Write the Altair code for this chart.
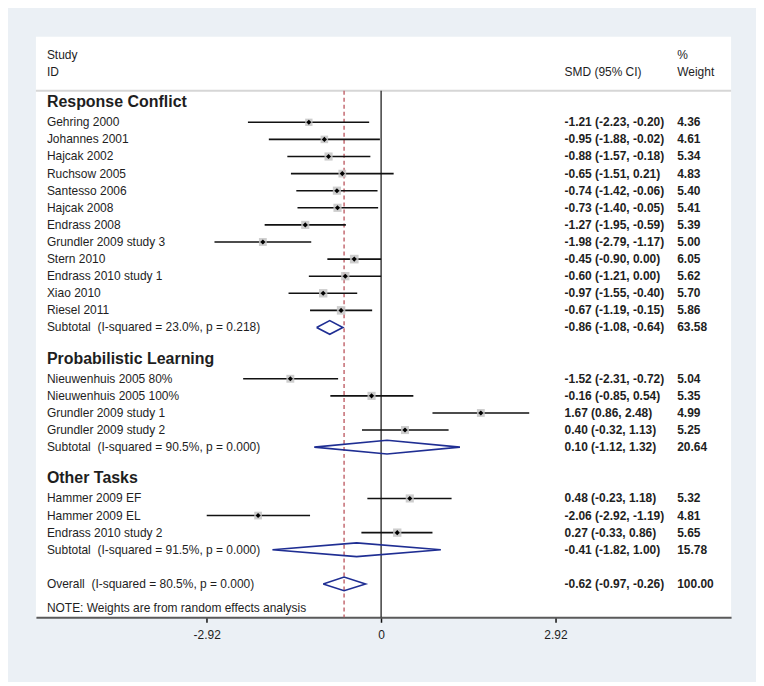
import altair as alt
import pandas as pd

groups = ["Response Conflict", "Probabilistic Learning", "Other Tasks"]
study_ids = [
    ["Gehring 2000", "Johannes 2001", "Hajcak 2002", "Ruchsow 2005", "Santesso 2006",
     "Hajcak 2008", "Endrass 2008", "Grundler 2009 study 3", "Stern 2010",
     "Endrass 2010 study 1", "Xiao 2010", "Riesel 2011"],
    ["Nieuwenhuis 2005 80%", "Nieuwenhuis 2005 100%", "Grundler 2009 study 1", "Grundler 2009 study 2"],
    ["Hammer 2009 EF", "Hammer 2009 EL", "Endrass 2010 study 2"],
]
smd = [
    [-1.21, -0.95, -0.88, -0.65, -0.74, -0.73, -1.27, -1.98, -0.45, -0.60, -0.97, -0.67],
    [-1.52, -0.16, 1.67, 0.40],
    [0.48, -2.06, 0.27],
]
ci_low = [
    [-2.23, -1.88, -1.57, -1.51, -1.42, -1.40, -1.95, -2.79, -0.90, -1.21, -1.55, -1.19],
    [-2.31, -0.85, 0.86, -0.32],
    [-0.23, -2.92, -0.33],
]
ci_high = [
    [-0.20, -0.02, -0.18, 0.21, -0.06, -0.05, -0.59, -1.17, 0.00, 0.00, -0.40, -0.15],
    [-0.72, 0.54, 2.48, 1.13],
    [1.18, -1.19, 0.86],
]
weights = [
    [4.36, 4.61, 5.34, 4.83, 5.40, 5.41, 5.39, 5.00, 6.05, 5.62, 5.70, 5.86],
    [5.04, 5.35, 4.99, 5.25],
    [5.32, 4.81, 5.65],
]
subtotal_labels = [
    "Subtotal\u00a0 (I-squared = 23.0%, p = 0.218)",
    "Subtotal\u00a0 (I-squared = 90.5%, p = 0.000)",
    "Subtotal\u00a0 (I-squared = 91.5%, p = 0.000)",
]
subtotal_smd = [-0.86, 0.10, -0.41]
subtotal_low = [-1.08, -1.12, -1.82]
subtotal_high = [-0.64, 1.32, 1.00]
subtotal_weight = [63.58, 20.64, 15.78]
overall_label = "Overall\u00a0 (I-squared = 80.5%, p = 0.000)"
overall_smd = -0.62
overall_low = -0.97
overall_high = -0.26
overall_weight = 100.00
note_text = "NOTE: Weights are from random effects analysis"
x_ticks = [-2.92, 0, 2.92]

FONT = "Liberation Sans"
TEXT_COLOR = "#1e1e1e"
W, H = 697, 582
Y_DOMAIN = [-5.0, 28.95]
X_DOMAIN = [-5.78, 5.86]

def fmt_ci(e, l, h):
    return f"{e:.2f} ({l:.2f}, {h:.2f})"

# build table rows
study_rows, heading_rows, summary_rows = [], [], []
r = 0
for gi, g in enumerate(groups):
    heading_rows.append({"label": g, "row": r - 1})
    for j, s in enumerate(study_ids[gi]):
        study_rows.append({
            "label": s, "row": r + j, "est": smd[gi][j], "lo": ci_low[gi][j],
            "hi": ci_high[gi][j], "w": weights[gi][j],
            "ci": fmt_ci(smd[gi][j], ci_low[gi][j], ci_high[gi][j]),
            "wt": f"{weights[gi][j]:.2f}",
        })
    n = len(study_ids[gi])
    summary_rows.append({
        "label": subtotal_labels[gi], "row": r + n, "est": subtotal_smd[gi],
        "lo": subtotal_low[gi], "hi": subtotal_high[gi],
        "ci": fmt_ci(subtotal_smd[gi], subtotal_low[gi], subtotal_high[gi]),
        "wt": f"{subtotal_weight[gi]:.2f}",
    })
    r = r + n + 3
summary_rows.append({
    "label": overall_label, "row": r - 1, "est": overall_smd, "lo": overall_low,
    "hi": overall_high, "ci": fmt_ci(overall_smd, overall_low, overall_high),
    "wt": f"{overall_weight:.2f}",
})
note_row = r - 1 + 1.4

studies_df = pd.DataFrame(study_rows)
heads_df = pd.DataFrame(heading_rows)
summ_df = pd.DataFrame(summary_rows)

# diamond outlines
dia = []
for i, s in summ_df.iterrows():
    pts = [(s["lo"], s["row"]), (s["est"], s["row"] - 0.4), (s["hi"], s["row"]),
           (s["est"], s["row"] + 0.4), (s["lo"], s["row"])]
    for k, (xx, yy) in enumerate(pts):
        dia.append({"id": i, "k": k, "x": xx, "y": yy})
dia_df = pd.DataFrame(dia)

xs = alt.Scale(domain=X_DOMAIN, nice=False, zero=False)
ys = alt.Scale(domain=Y_DOMAIN, reverse=True, nice=False, zero=False)

xaxis = alt.Axis(values=x_ticks, title=None, grid=False, labelExpr="'' + datum.value",
                 domainColor="#5a5a5a", domainWidth=2, tickColor="#111", tickWidth=1.5,
                 tickSize=5, labelPadding=7, labelFont=FONT, labelFontSize=12,
                 labelColor=TEXT_COLOR)

# header separator
sep = alt.Chart(pd.DataFrame({"y": [-1.84]})).mark_rule(color="#d6d6d6", strokeWidth=2).encode(
    y=alt.Y("y:Q", scale=ys, axis=None), x=alt.value(0), x2=alt.value(W))

zero_line = alt.Chart(pd.DataFrame({"x": [0.0], "y": [-1.84], "y2": [Y_DOMAIN[1]]})).mark_rule(
    color="#222", strokeWidth=1.3).encode(
    x=alt.X("x:Q", scale=xs, axis=xaxis), y=alt.Y("y:Q", scale=ys, axis=None), y2="y2:Q")

ovl_line = alt.Chart(pd.DataFrame({"x": [overall_smd], "y": [-1.84], "y2": [Y_DOMAIN[1]]})).mark_rule(
    color="#c46a72", strokeWidth=1.5, strokeDash=[4, 3]).encode(
    x=alt.X("x:Q", scale=xs), y=alt.Y("y:Q", scale=ys), y2="y2:Q")

ci_lines = alt.Chart(studies_df).mark_rule(color="#111", strokeWidth=1.6).encode(
    x=alt.X("lo:Q", scale=xs), x2="hi:Q", y=alt.Y("row:Q", scale=ys))

boxes = alt.Chart(studies_df).mark_square(color="#c4c4c4", opacity=0.85).encode(
    x=alt.X("est:Q", scale=xs), y=alt.Y("row:Q", scale=ys),
    size=alt.Size("w:Q", scale=alt.Scale(domain=[0, 6.05], range=[0, 75]), legend=None))

dots = alt.Chart(studies_df).mark_point(shape="diamond", filled=True, color="#000", size=26, opacity=1).encode(
    x=alt.X("est:Q", scale=xs), y=alt.Y("row:Q", scale=ys))

diamonds = alt.Chart(dia_df).mark_line(color="#1f2e93", strokeWidth=1.6).encode(
    x=alt.X("x:Q", scale=xs), y=alt.Y("y:Q", scale=ys), detail="id:N", order="k:Q")

def txt(df, field, xpx, size=12, weight="normal", dy=0):
    return alt.Chart(df).mark_text(align="left", baseline="middle", font=FONT, fontSize=size,
                                   fontWeight=weight, color=TEXT_COLOR, dy=dy).encode(
        x=alt.value(xpx), y=alt.Y("row:Q", scale=ys), text=f"{field}:N")

COL_LABEL, COL_CI, COL_WT = 11, 530, 643

header_df = pd.DataFrame([
    {"row": -3.94, "label": "Study", "x": COL_LABEL},
    {"row": -2.94, "label": "ID", "x": COL_LABEL},
    {"row": -2.94, "label": "SMD (95% CI)", "x": COL_CI},
    {"row": -3.94, "label": "%", "x": COL_WT},
    {"row": -2.94, "label": "Weight", "x": COL_WT},
])
headers = alt.Chart(header_df).mark_text(align="left", baseline="middle", font=FONT, fontSize=12,
                                         color=TEXT_COLOR).encode(
    x=alt.X("x:Q", scale=None), y=alt.Y("row:Q", scale=ys), text="label:N")

note_df = pd.DataFrame([{"row": note_row, "label": note_text}])

layers = [
    sep, zero_line, ovl_line, ci_lines, boxes, dots, diamonds, headers,
    txt(heads_df, "label", COL_LABEL, size=16, weight="bold", dy=-3),
    txt(studies_df, "label", COL_LABEL),
    txt(studies_df, "ci", COL_CI, weight="bold"),
    txt(studies_df, "wt", COL_WT, weight="bold"),
    txt(summ_df, "label", COL_LABEL),
    txt(summ_df, "ci", COL_CI, weight="bold"),
    txt(summ_df, "wt", COL_WT, weight="bold"),
    txt(note_df, "label", COL_LABEL),
]

chart = alt.layer(*layers).properties(
    width=W, height=H, background="#ebf0f5",
    padding={"left": 28, "top": 28, "right": 25, "bottom": 64},
    autosize=alt.AutoSizeParams(type="none"),
).configure_view(fill="white", stroke=None)

chart.save("out.html", embed_options={"renderer": "svg", "actions": False})
